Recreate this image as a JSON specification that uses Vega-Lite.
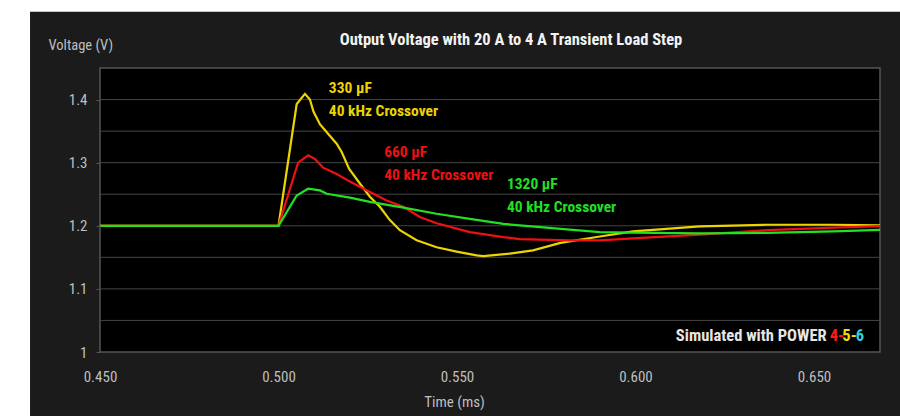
{
  "$schema": "https://vega.github.io/schema/vega-lite/v6.json",
  "width": 780,
  "height": 284,
  "autosize": {"type": "none"},
  "padding": {"left": 100, "top": 68, "right": 20, "bottom": 64},
  "background": "#ffffff",
  "config": {
    "font": "'Roboto Condensed', 'Liberation Sans Narrow', Lato, sans-serif",
    "view": {"stroke": null}
  },
  "title": {
    "text": "Output Voltage with 20 A to 4 A Transient Load Step",
    "color": "#f2f2f2",
    "fontSize": 16.5,
    "fontWeight": "bold",
    "anchor": "middle",
    "dx": 21,
    "dy": 41,
    "offset": 4
  },
  "datasets": {
    "one": [{"k": 1}],
    "curves": [
      {"t": 0.45, "v": 1.2, "series": "330 µF"},
      {"t": 0.5, "v": 1.2, "series": "330 µF"},
      {"t": 0.5051, "v": 1.393, "series": "330 µF"},
      {"t": 0.5074, "v": 1.409, "series": "330 µF"},
      {"t": 0.5088, "v": 1.4, "series": "330 µF"},
      {"t": 0.5098, "v": 1.381, "series": "330 µF"},
      {"t": 0.5116, "v": 1.361, "series": "330 µF"},
      {"t": 0.514, "v": 1.345, "series": "330 µF"},
      {"t": 0.5163, "v": 1.33, "series": "330 µF"},
      {"t": 0.5177, "v": 1.317, "series": "330 µF"},
      {"t": 0.5198, "v": 1.29, "series": "330 µF"},
      {"t": 0.5228, "v": 1.267, "series": "330 µF"},
      {"t": 0.5256, "v": 1.246, "series": "330 µF"},
      {"t": 0.5284, "v": 1.23, "series": "330 µF"},
      {"t": 0.5312, "v": 1.209, "series": "330 µF"},
      {"t": 0.534, "v": 1.193, "series": "330 µF"},
      {"t": 0.5387, "v": 1.177, "series": "330 µF"},
      {"t": 0.5443, "v": 1.166, "series": "330 µF"},
      {"t": 0.5499, "v": 1.159, "series": "330 µF"},
      {"t": 0.5555, "v": 1.153, "series": "330 µF"},
      {"t": 0.5574, "v": 1.152, "series": "330 µF"},
      {"t": 0.5648, "v": 1.156, "series": "330 µF"},
      {"t": 0.5713, "v": 1.161, "series": "330 µF"},
      {"t": 0.579, "v": 1.173, "series": "330 µF"},
      {"t": 0.59, "v": 1.183, "series": "330 µF"},
      {"t": 0.5993, "v": 1.191, "series": "330 µF"},
      {"t": 0.618, "v": 1.199, "series": "330 µF"},
      {"t": 0.637, "v": 1.2016, "series": "330 µF"},
      {"t": 0.6555, "v": 1.2016, "series": "330 µF"},
      {"t": 0.6685, "v": 1.2008, "series": "330 µF"},
      {"t": 0.45, "v": 1.2, "series": "660 µF"},
      {"t": 0.5, "v": 1.2, "series": "660 µF"},
      {"t": 0.5055, "v": 1.3, "series": "660 µF"},
      {"t": 0.5083, "v": 1.3115, "series": "660 µF"},
      {"t": 0.5102, "v": 1.306, "series": "660 µF"},
      {"t": 0.5125, "v": 1.292, "series": "660 µF"},
      {"t": 0.5163, "v": 1.282, "series": "660 µF"},
      {"t": 0.52, "v": 1.27, "series": "660 µF"},
      {"t": 0.5256, "v": 1.2535, "series": "660 µF"},
      {"t": 0.5303, "v": 1.24, "series": "660 µF"},
      {"t": 0.535, "v": 1.23, "series": "660 µF"},
      {"t": 0.5396, "v": 1.214, "series": "660 µF"},
      {"t": 0.5443, "v": 1.204, "series": "660 µF"},
      {"t": 0.5536, "v": 1.19, "series": "660 µF"},
      {"t": 0.563, "v": 1.182, "series": "660 µF"},
      {"t": 0.5676, "v": 1.179, "series": "660 µF"},
      {"t": 0.5816, "v": 1.177, "series": "660 µF"},
      {"t": 0.59, "v": 1.177, "series": "660 µF"},
      {"t": 0.5993, "v": 1.18, "series": "660 µF"},
      {"t": 0.618, "v": 1.186, "series": "660 µF"},
      {"t": 0.637, "v": 1.193, "series": "660 µF"},
      {"t": 0.6555, "v": 1.197, "series": "660 µF"},
      {"t": 0.6685, "v": 1.1995, "series": "660 µF"},
      {"t": 0.45, "v": 1.2, "series": "1320 µF"},
      {"t": 0.5, "v": 1.2, "series": "1320 µF"},
      {"t": 0.5051, "v": 1.248, "series": "1320 µF"},
      {"t": 0.5083, "v": 1.2587, "series": "1320 µF"},
      {"t": 0.5116, "v": 1.256, "series": "1320 µF"},
      {"t": 0.5135, "v": 1.2508, "series": "1320 µF"},
      {"t": 0.52, "v": 1.2446, "series": "1320 µF"},
      {"t": 0.5256, "v": 1.238, "series": "1320 µF"},
      {"t": 0.535, "v": 1.2287, "series": "1320 µF"},
      {"t": 0.5443, "v": 1.219, "series": "1320 µF"},
      {"t": 0.5536, "v": 1.211, "series": "1320 µF"},
      {"t": 0.563, "v": 1.203, "series": "1320 µF"},
      {"t": 0.5816, "v": 1.194, "series": "1320 µF"},
      {"t": 0.59, "v": 1.19, "series": "1320 µF"},
      {"t": 0.5993, "v": 1.189, "series": "1320 µF"},
      {"t": 0.618, "v": 1.188, "series": "1320 µF"},
      {"t": 0.637, "v": 1.1887, "series": "1320 µF"},
      {"t": 0.6555, "v": 1.191, "series": "1320 µF"},
      {"t": 0.6685, "v": 1.1935, "series": "1320 µF"}
    ],
    "labels": [
      {"t": 0.5141, "v": 1.419, "label": "330 µF", "series": "330 µF"},
      {"t": 0.5141, "v": 1.3826, "label": "40 kHz Crossover", "series": "330 µF"},
      {"t": 0.5296, "v": 1.3162, "label": "660 µF", "series": "660 µF"},
      {"t": 0.5296, "v": 1.2798, "label": "40 kHz Crossover", "series": "660 µF"},
      {"t": 0.564, "v": 1.2656, "label": "1320 µF", "series": "1320 µF"},
      {"t": 0.564, "v": 1.2293, "label": "40 kHz Crossover", "series": "1320 µF"}
    ],
    "grid": [
      {"g": 1.05}, {"g": 1.1}, {"g": 1.15}, {"g": 1.2}, {"g": 1.25},
      {"g": 1.3}, {"g": 1.35}, {"g": 1.4}
    ]
  },
  "layer": [
    {
      "data": {"name": "one"},
      "mark": {"type": "rect", "fill": "#1b1b1b", "clip": false},
      "encoding": {
        "x": {"datum": 0.4304, "type": "quantitative", "scale": {"domain": [0.45, 0.6685], "nice": false, "zero": false},
          "axis": {
            "title": "Time (ms)", "titleColor": "#bfbfbf", "titleFontSize": 15, "titleFontWeight": "normal",
            "titleX": 354, "titleY": 49, "titleAlign": "center", "titleBaseline": "middle",
            "values": [0.45, 0.5, 0.55, 0.6, 0.65], "format": ".3f",
            "labelColor": "#bfbfbf", "labelFontSize": 15, "labelPadding": 17, "labelFlush": false,
            "ticks": false, "domain": false, "grid": false, "zindex": 2
          }},
        "x2": {"datum": 0.71},
        "y": {"datum": 1.539, "type": "quantitative", "scale": {"domain": [1, 1.45], "nice": false, "zero": false},
          "axis": {
            "title": "Voltage (V)", "titleColor": "#bfbfbf", "titleFontSize": 14.5, "titleFontWeight": "normal",
            "titleAngle": 0, "titleX": -52, "titleY": -23, "titleAlign": "left", "titleBaseline": "middle",
            "values": [1, 1.05, 1.1, 1.15, 1.2, 1.25, 1.3, 1.35, 1.4, 1.45],
            "format": ".2~f",
            "labelExpr": "round(datum.value * 20) % 2 == 0 ? datum.label : ''",
            "labelColor": "#bfbfbf", "labelFontSize": 15, "labelPadding": 9, "labelFlush": false,
            "ticks": true, "tickSize": 4, "tickColor": "#555555",
            "domain": false, "grid": false, "zindex": 2
          }},
        "y2": {"datum": 0.85}
      }
    },
    {
      "data": {"name": "one"},
      "mark": {"type": "rect", "fill": "#000000", "stroke": "#555555", "strokeWidth": 1.5, "clip": false},
      "encoding": {
        "x": {"datum": 0.45, "type": "quantitative"},
        "x2": {"datum": 0.6685},
        "y": {"datum": 1.0, "type": "quantitative"},
        "y2": {"datum": 1.45}
      }
    },
    {
      "data": {"name": "grid"},
      "mark": {"type": "rule", "color": "#454545", "strokeWidth": 1},
      "encoding": {
        "y": {"field": "g", "type": "quantitative"}
      }
    },
    {
      "data": {"name": "curves"},
      "mark": {"type": "line", "strokeWidth": 2.2},
      "encoding": {
        "x": {"field": "t", "type": "quantitative"},
        "y": {"field": "v", "type": "quantitative"},
        "color": {"field": "series", "type": "nominal",
          "scale": {"domain": ["330 µF", "660 µF", "1320 µF"], "range": ["#ecd400", "#ee1111", "#22e022"]},
          "legend": null}
      }
    },
    {
      "data": {"name": "labels"},
      "mark": {"type": "text", "align": "left", "baseline": "middle", "fontSize": 15.5, "fontWeight": "bold"},
      "encoding": {
        "x": {"field": "t", "type": "quantitative"},
        "y": {"field": "v", "type": "quantitative"},
        "text": {"field": "label"},
        "color": {"field": "series", "type": "nominal", "legend": null}
      }
    },
    {
      "data": {"name": "one"},
      "mark": {"type": "text", "align": "right", "baseline": "middle", "fontSize": 16.5, "fontWeight": "bold", "color": "#e6e6e6", "text": "Simulated with POWER"},
      "encoding": {
        "x": {"datum": 0.65356, "type": "quantitative"},
        "y": {"datum": 1.0253, "type": "quantitative"}
      }
    },
    {
      "data": {"name": "one"},
      "mark": {"type": "text", "align": "right", "baseline": "middle", "fontSize": 16.5, "fontWeight": "bold", "color": "#ff1a1a", "text": "4-"},
      "encoding": {
        "x": {"datum": 0.6584, "type": "quantitative"},
        "y": {"datum": 1.0253, "type": "quantitative"}
      }
    },
    {
      "data": {"name": "one"},
      "mark": {"type": "text", "align": "right", "baseline": "middle", "fontSize": 16.5, "fontWeight": "bold", "color": "#f2e000", "text": "5-"},
      "encoding": {
        "x": {"datum": 0.66196, "type": "quantitative"},
        "y": {"datum": 1.0253, "type": "quantitative"}
      }
    },
    {
      "data": {"name": "one"},
      "mark": {"type": "text", "align": "right", "baseline": "middle", "fontSize": 16.5, "fontWeight": "bold", "color": "#2ed3d3", "text": "6"},
      "encoding": {
        "x": {"datum": 0.66401, "type": "quantitative"},
        "y": {"datum": 1.0253, "type": "quantitative"}
      }
    }
  ]
}
